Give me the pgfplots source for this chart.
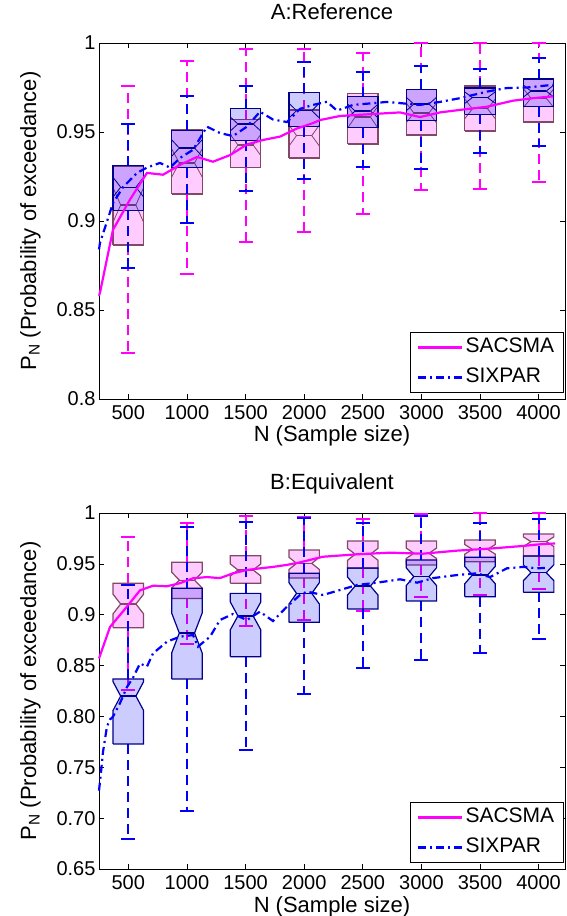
\documentclass[border=0pt]{standalone}
\usepackage{fontspec}
\setmainfont{Liberation Sans}
\usepackage{pgfplots}
\pgfplotsset{compat=1.18}

\definecolor{sacline}{rgb}{1,0,1}
\definecolor{sixline}{rgb}{0,0,1}
\colorlet{sacedge}{magenta!45!black}
\colorlet{sixedge}{blue!55!black}

\newif\ifrectfill
% notched box: x, lower whisker, q1, median, q3, upper whisker, fill, edge, whisker colour
\newcommand{\nbox}[9]{%
  \pgfmathsetmacro\bxL{#1-130}\pgfmathsetmacro\bxR{#1+130}%
  \pgfmathsetmacro\bxIL{#1-65}\pgfmathsetmacro\bxIR{#1+65}%
  \pgfmathsetmacro\bxCL{#1-60}\pgfmathsetmacro\bxCR{#1+60}%
  \pgfmathsetmacro\bxND{0.22*(#5-#3)}%
  \pgfmathsetmacro\bxNL{max(#4-\bxND,#3)}%
  \pgfmathsetmacro\bxNH{min(#4+\bxND,#5)}%
  \addplot[forget plot, #9, line width=2pt, dash pattern=on 10pt off 6pt] coordinates {(#1,#5) (#1,#6)};
  \addplot[forget plot, #9, line width=2pt, dash pattern=on 10pt off 6pt] coordinates {(#1,#3) (#1,#2)};
  \addplot[forget plot, #9, line width=2pt] coordinates {(\bxCL,#6) (\bxCR,#6)};
  \addplot[forget plot, #9, line width=2pt] coordinates {(\bxCL,#2) (\bxCR,#2)};
  \ifrectfill
    \addplot[forget plot, draw=#8, line width=1.2pt, fill=#7, fill opacity=0.2] coordinates {
      (\bxL,#3) (\bxL,#5) (\bxR,#5) (\bxR,#3) (\bxL,#3)};
    \addplot[forget plot, draw=#8, line width=0.8pt] coordinates {
      (\bxL,\bxNL) (\bxIL,#4) (\bxL,\bxNH)};
    \addplot[forget plot, draw=#8, line width=0.8pt] coordinates {
      (\bxR,\bxNL) (\bxIR,#4) (\bxR,\bxNH)};
  \else
    \addplot[forget plot, draw=#8, line width=1.2pt, fill=#7, fill opacity=0.2] coordinates {
      (\bxL,#3) (\bxL,\bxNL) (\bxIL,#4) (\bxL,\bxNH) (\bxL,#5) (\bxR,#5)
      (\bxR,\bxNH) (\bxIR,#4) (\bxR,\bxNL) (\bxR,#3) (\bxL,#3)};
  \fi
  \addplot[forget plot, draw=#8, line width=1.2pt] coordinates {(\bxIL,#4) (\bxIR,#4)};
}

\pgfplotsset{panel/.style={
  scale only axis, width=466pt, height=356pt, anchor=south west,
  xmin=250, xmax=4225, clip=false,
  xtick={500,1000,1500,2000,2500,3000,3500,4000},
  xticklabels={500,1000,1500,2000,2500,3000,3500,4000},
  tick align=inside, major tick length=5pt,
  axis line style={line width=0.8pt},
  every tick/.style={black, line width=0.6pt},
  every tick label/.append style={font=\fontsize{20}{24}\selectfont},
  xticklabel style={yshift=-3pt},
  title style={at={(0.5,1)}, anchor=base, yshift=17pt, font=\fontsize{22}{26}\selectfont},
  xlabel={N (Sample size)},
  xlabel style={at={(0.5,0)}, anchor=base, yshift=-43pt, font=\fontsize{22}{26}\selectfont},
  ylabel={P\textsubscript{N} (Probability of exceedance)},
  ylabel style={at={(-0.135,0.5)}, anchor=base, font=\fontsize{22}{26}\selectfont},
  legend style={at={(0.997,0.017)}, anchor=south east, draw=black,
    line width=0.8pt, font=\fontsize{21}{25}\selectfont,
    inner xsep=7pt, inner ysep=4pt, row sep=8pt,
    nodes={inner sep=2pt, text height=14pt, text depth=4pt}},
  legend cell align=left,
  legend image code/.code={\draw[##1] (0pt,0pt) -- (44pt,0pt);},
}}

\begin{document}
\begin{tikzpicture}[font=\fontsize{20}{24}\selectfont]
\useasboundingbox (0,0) rectangle (566pt,916pt);

% A: Reference
\rectfilltrue
\begin{axis}[panel, at={(99pt,517pt)}, title={A:Reference},
  ymin=0.8, ymax=1,
  ytick={0.8,0.85,0.9,0.95,1}, yticklabels={0.8,0.85,0.9,0.95,1}]
  % SACSMA
  \nbox{500}{0.826}{0.8865}{0.909}{0.9305}{0.976}{sacline}{sacedge}{sacline}
  \nbox{1000}{0.870}{0.9152}{0.9326}{0.9511}{0.990}{sacline}{sacedge}{sacline}
  \nbox{1500}{0.888}{0.930}{0.9427}{0.957}{0.9966}{sacline}{sacedge}{sacline}
  \nbox{2000}{0.894}{0.9354}{0.948}{0.9624}{0.9966}{sacline}{sacedge}{sacline}
  \nbox{2500}{0.904}{0.9433}{0.9584}{0.9717}{0.9946}{sacline}{sacedge}{sacline}
  \nbox{3000}{0.9174}{0.9483}{0.9607}{0.974}{1.0}{sacline}{sacedge}{sacline}
  \nbox{3500}{0.918}{0.9506}{0.963}{0.9758}{1.0}{sacline}{sacedge}{sacline}
  \nbox{4000}{0.922}{0.9556}{0.969}{0.9798}{1.0}{sacline}{sacedge}{sacline}
  % SIXPAR
  \nbox{500}{0.8738}{0.906}{0.919}{0.931}{0.9545}{sixline}{sixedge}{sixline}
  \nbox{1000}{0.899}{0.930}{0.941}{0.951}{0.9704}{sixline}{sixedge}{sixline}
  \nbox{1500}{0.9169}{0.945}{0.9545}{0.963}{0.9758}{sixline}{sixedge}{sixline}
  \nbox{2000}{0.9238}{0.953}{0.962}{0.972}{0.9895}{sixline}{sixedge}{sixline}
  \nbox{2500}{0.9305}{0.9524}{0.9618}{0.9699}{0.9837}{sixline}{sixedge}{sixline}
  \nbox{3000}{0.9294}{0.9564}{0.9657}{0.974}{0.987}{sixline}{sixedge}{sixline}
  \nbox{3500}{0.938}{0.960}{0.9693}{0.9747}{0.9854}{sixline}{sixedge}{sixline}
  \nbox{4000}{0.9423}{0.9642}{0.973}{0.9798}{0.9918}{sixline}{sixedge}{sixline}

  \addplot[sacline, line width=2.2pt] coordinates {
    (250,0.858) (258,0.8596) (369,0.895) (514,0.912) (659,0.927) (796,0.926)
    (941,0.9315) (1086,0.936) (1222,0.9333) (1367,0.937) (1512,0.943)
    (1649,0.9455) (1794,0.9474) (1939,0.952) (2075,0.955) (2135,0.9567)
    (2306,0.959) (2562,0.960) (2818,0.961) (2988,0.9584) (3159,0.961)
    (3329,0.9624) (3560,0.9642) (3782,0.9676) (3952,0.969) (4123,0.970)};
  \addlegendentry{SACSMA}
  \addplot[sixline, line width=2.2pt, dash pattern=on 8pt off 4pt on 2pt off 4pt] coordinates {
    (250,0.884) (258,0.8876) (369,0.910) (455,0.919) (574,0.927) (659,0.930)
    (770,0.9326) (856,0.930) (941,0.9354) (1052,0.940) (1171,0.953)
    (1282,0.9494) (1393,0.9477) (1512,0.953) (1623,0.9614) (1734,0.957)
    (1854,0.9556) (1965,0.963) (2075,0.9652) (2195,0.967) (2280,0.962)
    (2417,0.9652) (2707,0.9669) (2988,0.9652) (3159,0.9669) (3329,0.969)
    (3560,0.9727) (3730,0.9747) (3901,0.975) (4123,0.9765)};
  \addlegendentry{SIXPAR}
\end{axis}

% B: Equivalent
\rectfillfalse
\begin{axis}[panel, at={(99pt,47pt)}, title={B:Equivalent},
  ymin=0.65, ymax=1,
  ytick={0.65,0.7,0.75,0.8,0.85,0.9,0.95,1},
  yticklabels={0.65,0.70,0.75,0.80,0.85,0.9,0.95,1}]
  % SACSMA
  \nbox{500}{0.826}{0.8872}{0.9105}{0.9309}{0.9767}{sacline}{sacedge}{sacline}
  \nbox{1000}{0.871}{0.916}{0.934}{0.9515}{0.9905}{sacline}{sacedge}{sacline}
  \nbox{1500}{0.8892}{0.931}{0.944}{0.958}{0.997}{sacline}{sacedge}{sacline}
  \nbox{2000}{0.8948}{0.936}{0.9505}{0.9636}{0.9964}{sacline}{sacedge}{sacline}
  \nbox{2500}{0.9036}{0.9456}{0.9594}{0.9725}{0.9941}{sacline}{sacedge}{sacline}
  \nbox{3000}{0.9177}{0.9489}{0.9604}{0.9725}{0.9987}{sacline}{sacedge}{sacline}
  \nbox{3500}{0.9194}{0.952}{0.9643}{0.9735}{1.0}{sacline}{sacedge}{sacline}
  \nbox{4000}{0.925}{0.9577}{0.9718}{0.9794}{1.0}{sacline}{sacedge}{sacline}
  % SIXPAR
  \nbox{500}{0.6795}{0.7729}{0.820}{0.8368}{0.9292}{sixline}{sixedge}{sixline}
  \nbox{1000}{0.7074}{0.8368}{0.882}{0.926}{0.9865}{sixline}{sixedge}{sixline}
  \nbox{1500}{0.767}{0.8587}{0.8988}{0.921}{0.9915}{sixline}{sixedge}{sixline}
  \nbox{2000}{0.8218}{0.8925}{0.921}{0.9407}{0.995}{sixline}{sixedge}{sixline}
  \nbox{2500}{0.848}{0.9056}{0.9282}{0.946}{0.9899}{sixline}{sixedge}{sixline}
  \nbox{3000}{0.8555}{0.9135}{0.9374}{0.9538}{0.997}{sixline}{sixedge}{sixline}
  \nbox{3500}{0.862}{0.9177}{0.939}{0.9564}{0.9905}{sixline}{sixedge}{sixline}
  \nbox{4000}{0.876}{0.922}{0.9413}{0.9577}{0.9938}{sixline}{sixedge}{sixline}

  \addplot[sacline, line width=2.2pt] coordinates {
    (250,0.857) (344,0.888) (489,0.908) (600,0.924) (711,0.9285) (830,0.928)
    (941,0.931) (1052,0.9358) (1171,0.937) (1282,0.936) (1393,0.9407)
    (1512,0.944) (1623,0.9456) (1734,0.947) (1854,0.949) (1965,0.9515)
    (2161,0.957) (2451,0.9594) (2732,0.961) (3014,0.960) (3304,0.963)
    (3585,0.965) (3867,0.9676) (4037,0.9695) (4140,0.970)};
  \addlegendentry{SACSMA}
  \addplot[sixline, line width=2.2pt, dash pattern=on 8pt off 4pt on 2pt off 4pt] coordinates {
    (250,0.727) (267,0.745) (284,0.765) (318,0.790) (344,0.797) (369,0.7997)
    (429,0.813) (489,0.829) (540,0.838) (600,0.852) (659,0.849) (711,0.862)
    (830,0.8735) (941,0.8784) (1052,0.880) (1094,0.8686) (1197,0.8784)
    (1282,0.8948) (1393,0.9007) (1512,0.8948) (1623,0.903) (1734,0.8938)
    (1854,0.908) (1965,0.9194) (2024,0.9227) (2161,0.9194) (2451,0.9292)
    (2621,0.9315) (2818,0.9348) (2963,0.9315) (3099,0.936) (3304,0.939)
    (3474,0.9407) (3585,0.937) (3730,0.9456) (3867,0.947) (3986,0.9456)
    (4054,0.946)};
  \addlegendentry{SIXPAR}
\end{axis}
\end{tikzpicture}
\end{document}
